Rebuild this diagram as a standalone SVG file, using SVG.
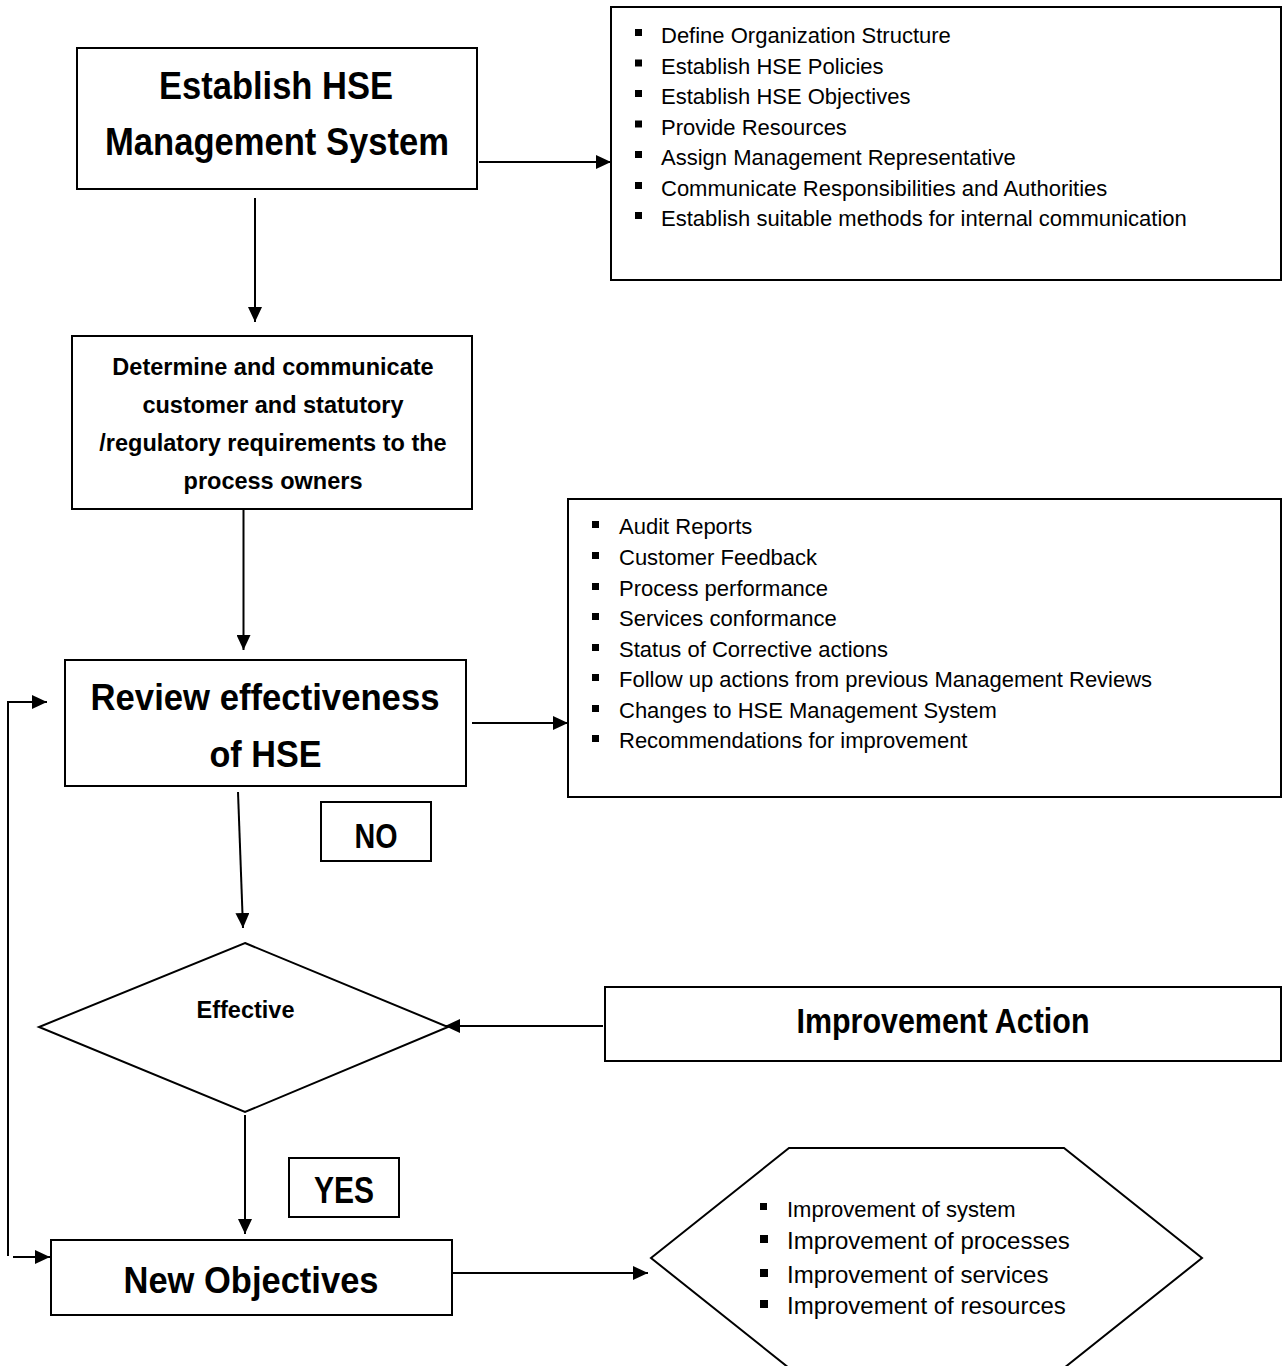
<svg xmlns="http://www.w3.org/2000/svg" xmlns:xlink="http://www.w3.org/1999/xlink" width="1285" height="1366" viewBox="0 0 1285 1366">
<style>
  .box { fill: #fff; stroke: #000; stroke-width: 2; }
  .shape { fill: #fff; stroke: #000; stroke-width: 2; }
  .con { fill: none; stroke: #000; stroke-width: 2; marker-end: url(#arrow); }
  .line { fill: none; stroke: #000; stroke-width: 2; }
  .title { font-family: "Liberation Sans", Arial, sans-serif; font-weight: bold; text-anchor: middle; fill: #000; }
  .bold { font-family: "Liberation Sans", Arial, sans-serif; font-weight: bold; font-size: 23.5px; text-anchor: middle; fill: #000; }
  .item { font-family: "Liberation Sans", Arial, sans-serif; font-size: 22px; fill: #000; }
  .item24 { font-family: "Liberation Sans", Arial, sans-serif; font-size: 24px; fill: #000; }
  .bul { fill: #000; }
</style>
<defs>
  <marker id="arrow" markerUnits="userSpaceOnUse" markerWidth="15" markerHeight="14" refX="15" refY="7" orient="auto">
    <path d="M0,0 L15,7 L0,14 Z" fill="#000"/>
  </marker>
  <rect id="b7" width="7" height="7" class="bul"/>
  <rect id="b8" width="8" height="8" class="bul"/>
</defs>

<rect width="1285" height="1366" fill="#fff"/>

<g id="connectors">
  <line class="con" x1="479" y1="162" x2="611" y2="162"/>
  <line class="con" x1="255" y1="198" x2="255" y2="322"/>
  <line class="con" x1="243.5" y1="503" x2="243.5" y2="650"/>
  <line class="con" x1="472" y1="723" x2="568" y2="723"/>
  <line class="con" x1="238" y1="792" x2="243" y2="928"/>
  <line class="con" x1="603" y1="1026" x2="445" y2="1026"/>
  <line class="con" x1="245" y1="1115" x2="245" y2="1234"/>
  <line class="con" x1="453" y1="1273" x2="648" y2="1273"/>
  <polyline class="line" points="8,1256 8,702"/>
  <line class="con" x1="7" y1="702" x2="47" y2="702"/>
  <line class="con" x1="13" y1="1257" x2="50" y2="1257"/>
</g>

<g id="node-establish">
  <rect class="box" x="77" y="48" width="400" height="141"/>
  <text class="title" x="276" y="99" font-size="38.5" textLength="234" lengthAdjust="spacingAndGlyphs">Establish HSE</text>
  <text class="title" x="277" y="155" font-size="38.5" textLength="344" lengthAdjust="spacingAndGlyphs">Management System</text>
</g>

<g id="node-list1">
  <rect class="box" x="611" y="7" width="670" height="273"/>
  <use xlink:href="#b7" x="635" y="29"/>
  <use xlink:href="#b7" x="635" y="59.5"/>
  <use xlink:href="#b7" x="635" y="90"/>
  <use xlink:href="#b7" x="635" y="120.5"/>
  <use xlink:href="#b7" x="635" y="151"/>
  <use xlink:href="#b7" x="635" y="182"/>
  <use xlink:href="#b7" x="635" y="212"/>
  <text class="item" x="661" y="43">Define Organization Structure</text>
  <text class="item" x="661" y="73.5">Establish HSE Policies</text>
  <text class="item" x="661" y="104">Establish HSE Objectives</text>
  <text class="item" x="661" y="134.5">Provide Resources</text>
  <text class="item" x="661" y="165">Assign Management Representative</text>
  <text class="item" x="661" y="196">Communicate Responsibilities and Authorities</text>
  <text class="item" x="661" y="226">Establish suitable methods for internal communication</text>
</g>

<g id="node-determine">
  <rect class="box" x="72" y="336" width="400" height="173"/>
  <text class="bold" x="273" y="375">Determine and communicate</text>
  <text class="bold" x="273" y="413">customer and statutory</text>
  <text class="bold" x="273" y="451">/regulatory requirements to the</text>
  <text class="bold" x="273" y="489">process owners</text>
</g>

<g id="node-review">
  <rect class="box" x="65" y="660" width="401" height="126"/>
  <text class="title" x="265" y="710" font-size="37.6" textLength="349" lengthAdjust="spacingAndGlyphs">Review effectiveness</text>
  <text class="title" x="265.5" y="767" font-size="37.6" textLength="112" lengthAdjust="spacingAndGlyphs">of HSE</text>
</g>

<g id="node-list2">
  <rect class="box" x="568" y="499" width="713" height="298"/>
  <use xlink:href="#b7" x="592" y="521"/>
  <use xlink:href="#b7" x="592" y="552"/>
  <use xlink:href="#b7" x="592" y="583"/>
  <use xlink:href="#b7" x="592" y="613"/>
  <use xlink:href="#b7" x="592" y="644"/>
  <use xlink:href="#b7" x="592" y="674"/>
  <use xlink:href="#b7" x="592" y="705"/>
  <use xlink:href="#b7" x="592" y="735"/>
  <text class="item" x="619" y="534">Audit Reports</text>
  <text class="item" x="619" y="565">Customer Feedback</text>
  <text class="item" x="619" y="596">Process performance</text>
  <text class="item" x="619" y="626">Services conformance</text>
  <text class="item" x="619" y="657">Status of Corrective actions</text>
  <text class="item" x="619" y="687">Follow up actions from previous Management Reviews</text>
  <text class="item" x="619" y="718">Changes to HSE Management System</text>
  <text class="item" x="619" y="748">Recommendations for improvement</text>
</g>

<g id="node-no">
  <rect class="box" x="321" y="802" width="110" height="59"/>
  <text class="title" x="376" y="848" font-size="35" textLength="43" lengthAdjust="spacingAndGlyphs">NO</text>
</g>

<g id="node-effective">
  <polygon class="shape" points="245,943 448,1027 245,1112 39,1027"/>
  <text class="bold" x="245.5" y="1018" font-size="23.3">Effective</text>
</g>

<g id="node-improvement-action">
  <rect class="box" x="605" y="987" width="676" height="74"/>
  <text class="title" x="943" y="1033" font-size="35" textLength="293" lengthAdjust="spacingAndGlyphs">Improvement Action</text>
</g>

<g id="node-yes">
  <rect class="box" x="289" y="1158" width="110" height="59"/>
  <text class="title" x="344" y="1203" font-size="36" textLength="60" lengthAdjust="spacingAndGlyphs">YES</text>
</g>

<g id="node-new-objectives">
  <rect class="box" x="51" y="1240" width="401" height="75"/>
  <text class="title" x="251" y="1293" font-size="37.6" textLength="255" lengthAdjust="spacingAndGlyphs">New Objectives</text>
</g>

<g id="node-improvements">
  <polygon class="shape" stroke-width="1.6" points="651,1258 789,1148 1064,1148 1202,1258 1064,1368 789,1368"/>
  <use xlink:href="#b7" x="760" y="1203"/>
  <use xlink:href="#b8" x="760" y="1235"/>
  <use xlink:href="#b8" x="760" y="1269"/>
  <use xlink:href="#b8" x="760" y="1300"/>
  <text class="item" x="787" y="1217" font-size="21.6">Improvement of system</text>
  <text class="item24" x="787" y="1249">Improvement of processes</text>
  <text class="item24" x="787" y="1283">Improvement of services</text>
  <text class="item24" x="787" y="1314">Improvement of resources</text>
</g>
</svg>
